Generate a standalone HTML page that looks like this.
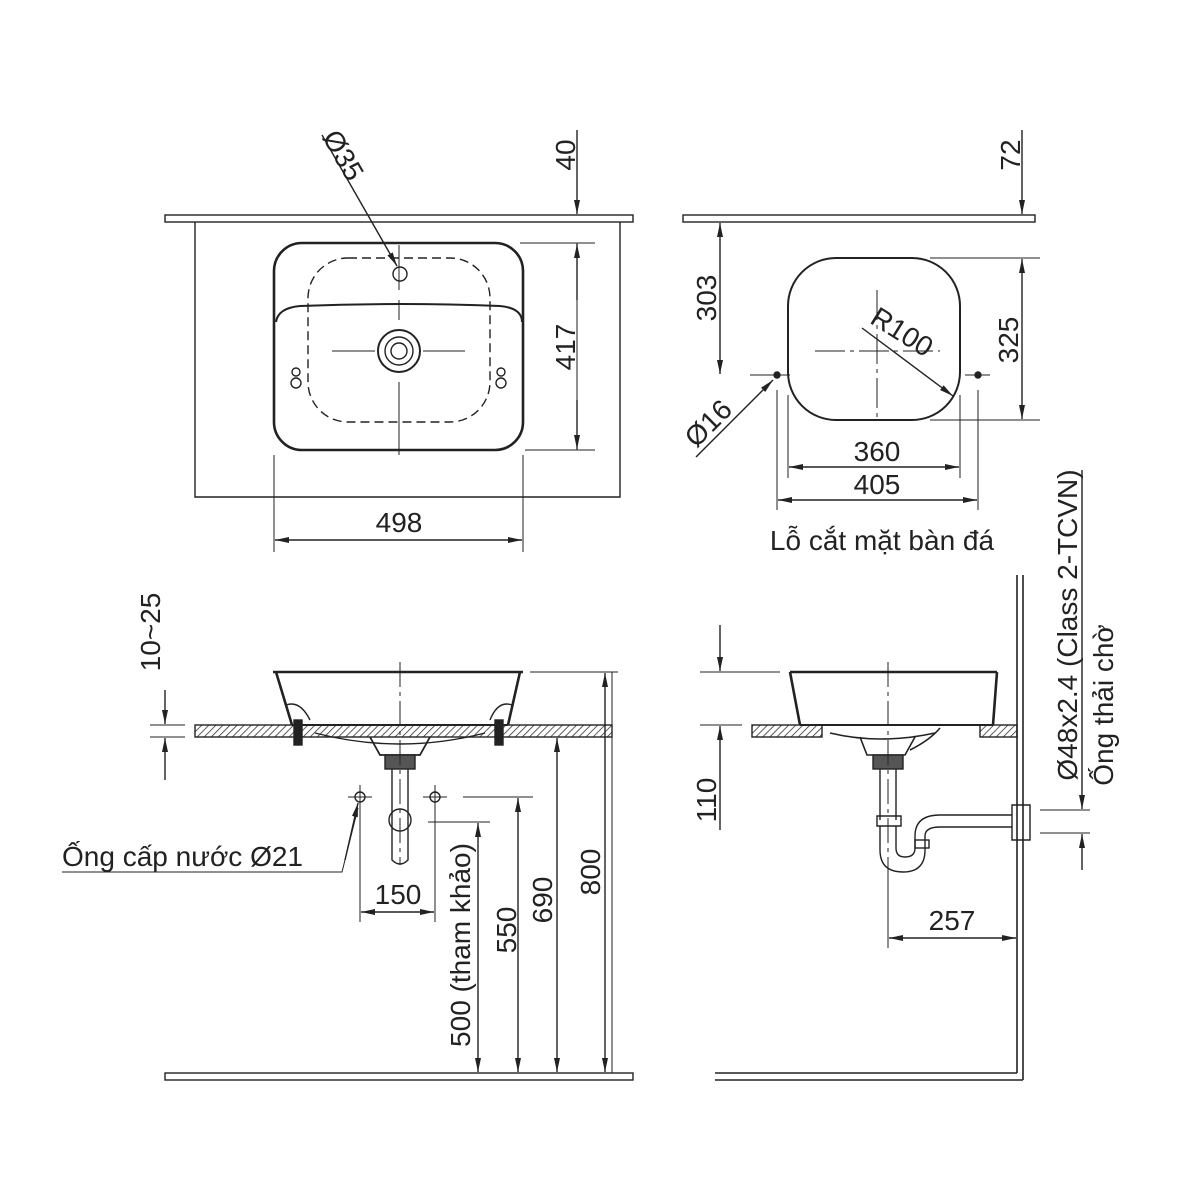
<!DOCTYPE html>
<html><head><meta charset="utf-8"><style>body{margin:0;background:#fff}svg{display:block}text{font-family:"Liberation Sans",Arial,sans-serif;fill:#222}</style></head><body>
<svg width="1200" height="1200" viewBox="0 0 1200 1200" xmlns="http://www.w3.org/2000/svg">
<defs>
<pattern id="h" width="5" height="5" patternUnits="userSpaceOnUse" patternTransform="rotate(45)"><rect width="5" height="5" fill="#fff"/><line x1="0" y1="0" x2="0" y2="5" stroke="#333" stroke-width="1.6"/></pattern>
<marker id="a" markerWidth="14" markerHeight="8" refX="14" refY="4" orient="auto-start-reverse" markerUnits="userSpaceOnUse"><path d="M0,1 L14,4 L0,7z" fill="#222"/></marker>
</defs>
<g stroke="#222" fill="none" stroke-width="1.4">
<!-- TOP LEFT -->
<rect x="165" y="215" width="468" height="7"/>
<path d="M195 222 V497 H620 V222"/>
<rect x="274" y="243" width="249" height="207" rx="28" stroke-width="2.6"/>
<path d="M276 322 Q278 308 300 306 Q400 302 500 306 Q522 308 522 322" stroke-width="2"/>
<rect x="308" y="258" width="182" height="164" rx="40" stroke-dasharray="9,5"/>
<circle cx="400" cy="274" r="7"/>
<circle cx="399" cy="351" r="21" stroke-width="2"/><circle cx="399" cy="351" r="14"/><circle cx="399" cy="351" r="8"/>
<path d="M399 245 V290 M399 300 V320 M399 382 V455 M332 351 H375 M423 351 H465" stroke-width="1"/>
<circle cx="296" cy="383" r="5"/><circle cx="296" cy="372" r="4"/><circle cx="501" cy="383" r="5"/><circle cx="501" cy="372" r="4"/>
<path d="M520 243 H595 M525 450 H595 M577 243 V450" stroke-width="1"/>
<line x1="577" y1="300" x2="577" y2="244" marker-end="url(#a)"/><line x1="577" y1="400" x2="577" y2="449" marker-end="url(#a)"/>
<line x1="577" y1="130" x2="577" y2="214" marker-end="url(#a)"/>
<line x1="322" y1="135" x2="397" y2="266" marker-end="url(#a)"/>
<path d="M274 455 V552 M523 455 V552" stroke-width="1"/>
<line x1="399" y1="540" x2="275" y2="540" marker-end="url(#a)"/><line x1="399" y1="540" x2="522" y2="540" marker-end="url(#a)"/>
<!-- TOP RIGHT -->
<rect x="683" y="215" width="352" height="7"/>
<line x1="1022" y1="130" x2="1022" y2="214" marker-end="url(#a)"/>
<rect x="788" y="258" width="172" height="162" rx="48" stroke-width="2"/>
<path d="M815 351 H940 M877 290 V420" stroke-width="1" stroke-dasharray="30,5,4,5"/>
<circle cx="777" cy="375" r="3" fill="#222"/><circle cx="978" cy="375" r="3" fill="#222"/>
<path d="M750 375 H790 M965 375 H990 M930 258 H1040 M930 420 H1040" stroke-width="1"/>
<line x1="720" y1="300" x2="720" y2="223" marker-end="url(#a)"/><line x1="720" y1="300" x2="720" y2="374" marker-end="url(#a)"/>
<line x1="1022" y1="340" x2="1022" y2="259" marker-end="url(#a)"/><line x1="1022" y1="340" x2="1022" y2="419" marker-end="url(#a)"/>
<path d="M788 395 V478 M960 395 V478 M777 390 V510 M978 390 V510" stroke-width="1"/>
<line x1="874" y1="467" x2="789" y2="467" marker-end="url(#a)"/><line x1="874" y1="467" x2="959" y2="467" marker-end="url(#a)"/>
<line x1="877" y1="500" x2="778" y2="500" marker-end="url(#a)"/><line x1="877" y1="500" x2="977" y2="500" marker-end="url(#a)"/>
<line x1="862" y1="328" x2="953" y2="396" marker-end="url(#a)"/>
<line x1="696" y1="457" x2="773" y2="380" marker-end="url(#a)"/>
<!-- BOTTOM LEFT -->
<rect x="195" y="725" width="417" height="12" fill="url(#h)"/>
<path d="M273 672 H523 M276 672 L292 725 M520 672 L508 725" stroke-width="2.6"/>
<path d="M292 725 H508" stroke-width="2"/>
<path d="M315 733 Q400 755 485 733" />
<path d="M370 737 L380 755 H420 L430 737" stroke-width="1.8"/>
<path d="M286 705 Q300 700 310 720 M512 705 Q498 700 490 720"/>
<rect x="294" y="720" width="8" height="25" fill="#222"/><rect x="495" y="720" width="8" height="25" fill="#222"/>
<rect x="385" y="755" width="30" height="14" fill="#555"/>
<path d="M392 769 V860 Q400 868 408 860 V769"/>
<circle cx="400" cy="820" r="11"/>
<path d="M400 662 V865" stroke-width="1" stroke-dasharray="25,5,4,5"/>
<circle cx="360" cy="797" r="5"/><circle cx="435" cy="797" r="5"/>
<path d="M348 797 H372 M360 785 V809 M423 797 H447 M435 785 V809" stroke-width="1"/>
<path d="M530 672 H618 M463 797 H533 M428 822 H490 M612 1073 V672" stroke-width="1"/>
<path d="M360 805 V922 M435 805 V922" stroke-width="1"/>
<line x1="397" y1="912" x2="361" y2="912" marker-end="url(#a)"/><line x1="397" y1="912" x2="434" y2="912" marker-end="url(#a)"/>
<line x1="605" y1="900" x2="605" y2="673" marker-end="url(#a)"/><line x1="605" y1="900" x2="605" y2="1072" marker-end="url(#a)"/>
<line x1="557" y1="900" x2="557" y2="738" marker-end="url(#a)"/><line x1="557" y1="900" x2="557" y2="1072" marker-end="url(#a)"/>
<line x1="518" y1="900" x2="518" y2="798" marker-end="url(#a)"/><line x1="518" y1="900" x2="518" y2="1072" marker-end="url(#a)"/>
<line x1="478" y1="900" x2="478" y2="823" marker-end="url(#a)"/><line x1="478" y1="900" x2="478" y2="1072" marker-end="url(#a)"/>
<rect x="165" y="1073" width="468" height="7"/>
<path d="M150 725 H185 M150 737 H185" stroke-width="1"/>
<line x1="165" y1="690" x2="165" y2="724" marker-end="url(#a)"/><line x1="165" y1="780" x2="165" y2="738" marker-end="url(#a)"/>
<path d="M62 872 H342 L358 808" stroke-width="1"/>
<line x1="345" y1="860" x2="358" y2="803" marker-end="url(#a)"/>
<!-- BOTTOM RIGHT -->
<rect x="752" y="725" width="70" height="12" fill="url(#h)"/>
<rect x="980" y="725" width="37" height="12" fill="url(#h)"/>
<path d="M1017 575 V1073 M1023 575 V1080" stroke-width="1.6"/>
<path d="M715 1073 H1017 M715 1080 H1023"/>
<path d="M790 672 H997 M790 672 L800 725 M997 672 L993 725" stroke-width="2.6"/>
<path d="M800 725 H993" stroke-width="2"/>
<path d="M830 733 Q880 745 935 733 M860 737 L867 755 H905 L915 737 M910 750 Q930 740 940 728" stroke-width="1.6"/>
<rect x="873" y="755" width="30" height="14" fill="#555"/>
<path d="M880 769 V820 M896 769 V820 M877 816 H901 V826 H877 Z"/>
<path d="M880 826 V850 Q880 872 903 872 Q925 872 925 850 M896 826 V848 Q896 857 905 857 Q915 857 915 848"/>
<path d="M915 848 V836 Q915 815 940 815 H1012 M925 850 V836 Q925 827 940 827 H1012"/>
<rect x="915" y="840" width="14" height="8"/>
<path d="M1012 805 H1030 V840 H1012 Z"/>
<path d="M888 662 V945" stroke-width="1" stroke-dasharray="25,5,4,5"/>
<path d="M1040 810 H1090 M1040 833 H1090 M888 870 V948" stroke-width="1"/>
<path d="M700 672 H780 M700 725 H742" stroke-width="1"/>
<line x1="720" y1="625" x2="720" y2="671" marker-end="url(#a)"/><line x1="720" y1="830" x2="720" y2="726" marker-end="url(#a)"/>
<line x1="1082" y1="470" x2="1082" y2="809" marker-end="url(#a)"/><line x1="1082" y1="870" x2="1082" y2="834" marker-end="url(#a)"/>
<line x1="950" y1="938" x2="889" y2="938" marker-end="url(#a)"/><line x1="950" y1="938" x2="1016" y2="938" marker-end="url(#a)"/>
</g>
<g font-size="28">
<text transform="translate(575,155) rotate(-90)" text-anchor="middle">40</text>
<text transform="translate(575,347) rotate(-90)" text-anchor="middle">417</text>
<text transform="translate(335,160) rotate(60)" text-anchor="middle">Ø35</text>
<text x="399" y="532" text-anchor="middle">498</text>
<text transform="translate(1020,155) rotate(-90)" text-anchor="middle">72</text>
<text transform="translate(716,298) rotate(-90)" text-anchor="middle">303</text>
<text transform="translate(1018,340) rotate(-90)" text-anchor="middle">325</text>
<text transform="translate(897,340) rotate(32)" text-anchor="middle">R100</text>
<text transform="translate(715,430) rotate(-45)" text-anchor="middle">Ø16</text>
<text x="877" y="461" text-anchor="middle">360</text>
<text x="877" y="494" text-anchor="middle">405</text>
<text x="882" y="550" text-anchor="middle">Lỗ cắt mặt bàn đá</text>
<text transform="translate(160,632) rotate(-90)" text-anchor="middle">10~25</text>
<text x="62" y="866">Ống cấp nước Ø21</text>
<text x="398" y="904" text-anchor="middle">150</text>
<text transform="translate(470,945) rotate(-90)" text-anchor="middle">500 (tham khảo)</text>
<text transform="translate(516,930) rotate(-90)" text-anchor="middle">550</text>
<text transform="translate(552,900) rotate(-90)" text-anchor="middle">690</text>
<text transform="translate(600,872) rotate(-90)" text-anchor="middle">800</text>
<text transform="translate(716,800) rotate(-90)" text-anchor="middle">110</text>
<text x="952" y="930" text-anchor="middle">257</text>
<text transform="translate(1077,625) rotate(-90)" text-anchor="middle">Ø48x2.4 (Class 2-TCVN)</text>
<text transform="translate(1113,705) rotate(-90)" text-anchor="middle">Ống thải chờ</text>
</g>
</svg>
</body></html>
